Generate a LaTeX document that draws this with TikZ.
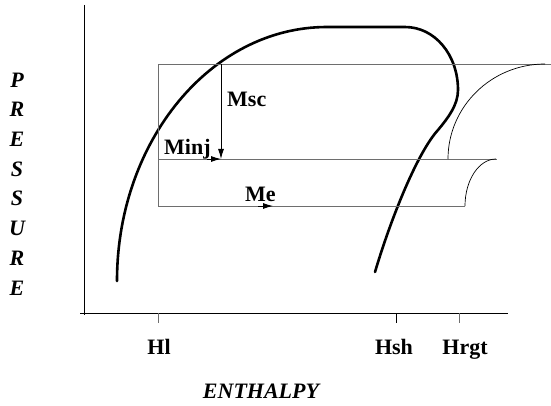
\documentclass[tikz,border=0pt]{standalone}
\usepackage{fontspec}
\setmainfont{Liberation Serif}
\usepackage{tikz}
\usetikzlibrary{arrows.meta,positioning,calc}
\definecolor{linegray}{RGB}{110,110,110}

\begin{document}
\begin{tikzpicture}[x=1pt, y=-1pt,
        axis/.style={draw=black, line width=0.9pt},
        cycleline/.style={draw=linegray, line width=0.9pt},
        thinarc/.style={draw=black, line width=0.7pt},
        dome/.style={draw=black, line width=2.6pt, line cap=round},
        arrow/.style={-{Latex[length=10pt,width=6pt]}, draw=black, line width=0.9pt},
        lbl/.style={font=\fontsize{22}{26}\selectfont\bfseries, inner sep=0pt},
        axislbl/.style={font=\fontsize{22}{26}\selectfont\bfseries\itshape, inner sep=0pt}]
        \useasboundingbox (0,0) rectangle (551,406);

        % Axes
        \coordinate (ytop) at (84,5);
        \coordinate (ybot) at (84,315);
        \coordinate (xleft) at (80,313);
        \coordinate (xright) at (508,313);
        \draw[axis] (ytop) -- (ybot);
        \draw[axis] (xleft) -- (xright);

        % Ticks and enthalpy labels
        \draw[cycleline] (158,313) -- (158,323);
        \draw[axis] (396,313) -- (396,323);
        \draw[cycleline] (459,313) -- (459,323);
        \node[lbl, anchor=base] (hl) at (159,354) {Hl};
        \node[lbl, anchor=base] (hsh) at (394,354) {Hsh};
        \node[lbl, anchor=base] (hrgt) at (465,354) {Hrgt};

        % Axis titles
        \node[axislbl, anchor=base] (enthalpy) at (261,398) {ENTHALPY};
        \foreach \ch [count=\i] in {P,R,E,S,S,U,R,E}
            \node[axislbl] (p\i) at (17,{80+29.7*(\i-1)}) {\ch};

        % Saturation dome
        \draw[dome] (117,281) .. controls (117,141) and (211,27) .. (327,27)
            -- (405,27) .. controls (435,27) and (458,55) .. (458,90)
            .. controls (458,105) and (448,118) .. (438,130)
            .. controls (418,152) and (392,215) .. (375,272);

        % Cycle lines
        \coordinate (tl) at (158,64);
        \coordinate (ml) at (158,159);
        \coordinate (bl) at (158,206);
        \draw[cycleline] (551,64) -- (tl) -- (bl) -- (465,206);
        \draw[cycleline] (ml) -- (497,159);

        % Superheat arcs
        \draw[thinarc] (545,64) .. controls (491,64) and (448,107) .. (448,159);
        \draw[thinarc] (496,159) .. controls (479,159) and (465,180) .. (465,206);

        % Flow arrows
        \coordinate (mscstart) at (221,64);
        \coordinate (mix) at (221,159);
        \coordinate (minjstart) at (207,159);
        \coordinate (mestart) at (258,206);
        \coordinate (meend) at (273,206);
        \draw[arrow] (mscstart) -- (mix);
        \draw[arrow] (minjstart) -- (mix);
        \draw[arrow] (mestart) -- (meend);

        % Flow labels
        \node[lbl, anchor=base west] (msc) at (227,107) {Msc};
        \node[lbl, anchor=base west] (minj) at (164,155) {Minj};
        \node[lbl, anchor=base west] (me) at (245,201) {Me};

    \end{tikzpicture}
\end{document}
